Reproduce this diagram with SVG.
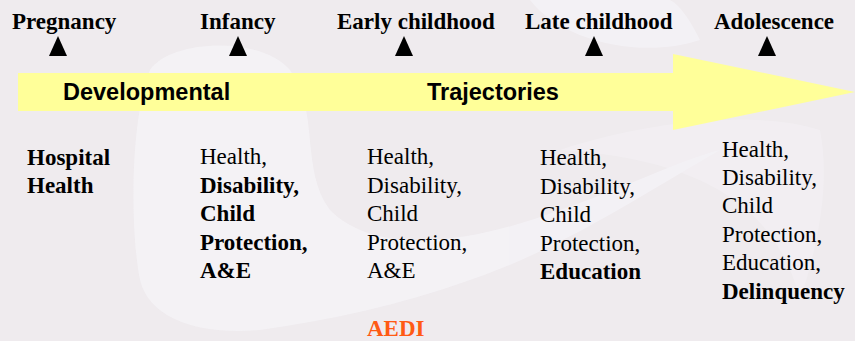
<svg xmlns="http://www.w3.org/2000/svg" width="855" height="341" viewBox="0 0 855 341">
<style>
.t{font-family:"Liberation Serif","Times New Roman",serif;font-size:23px;fill:#000}
.b{font-weight:bold}
.s{font-family:"Liberation Sans",Arial,sans-serif;font-size:23.5px;font-weight:bold;fill:#000}
.tri{fill:#000}
.sw{fill:#f8f7fc}
</style>
<rect width="855" height="341" fill="#efebee"/>
<g id="background" opacity="0.55">
<path class="sw" d="M150,70 C170,40 260,35 290,70 C320,110 300,170 330,210 C380,260 480,240 560,210 C620,190 680,160 720,150 C650,190 560,250 470,280 C400,305 330,320 260,330 C200,335 150,320 140,280 C130,230 130,120 150,70 Z"/>
<path class="sw" d="M530,0 C560,40 640,60 700,40 C690,20 680,5 670,0 Z"/>
<path class="sw" d="M560,150 C650,120 760,110 820,130 C830,180 820,240 800,300 C780,220 720,160 560,150 Z" opacity="0.6"/>
</g>
<g id="arrow">
<polygon points="18,73 673,73 673,54 855,92 673,130 673,111 18,111" fill="#ffff99"/>
<text class="s" x="63" y="100">Developmental</text>
<text class="s" x="427" y="100">Trajectories</text>
</g>
<g id="stage-pregnancy">
<text class="t b" x="12" y="29">Pregnancy</text>
<polygon class="tri" points="58,36 67,56 49,56"/>
</g>
<g id="stage-infancy">
<text class="t b" x="200" y="29">Infancy</text>
<polygon class="tri" points="238,36 247,56 229,56"/>
</g>
<g id="stage-early">
<text class="t b" x="337" y="29">Early childhood</text>
<polygon class="tri" points="404,36 413,56 395,56"/>
</g>
<g id="stage-late">
<text class="t b" x="525" y="29">Late childhood</text>
<polygon class="tri" points="594,36 603,56 585,56"/>
</g>
<g id="stage-adolescence">
<text class="t b" x="714" y="29">Adolescence</text>
<polygon class="tri" points="767,36 776,56 758,56"/>
</g>
<g id="col-pregnancy">
<text class="t b" x="27" y="165">Hospital</text>
<text class="t b" x="27" y="193">Health</text>
</g>
<g id="col-infancy">
<text class="t" x="200" y="164">Health,</text>
<text class="t b" x="200" y="193">Disability,</text>
<text class="t b" x="200" y="221">Child</text>
<text class="t b" x="200" y="250">Protection,</text>
<text class="t b" x="200" y="278">A&amp;E</text>
</g>
<g id="col-early">
<text class="t" x="367" y="164">Health,</text>
<text class="t" x="367" y="193">Disability,</text>
<text class="t" x="367" y="221">Child</text>
<text class="t" x="367" y="250">Protection,</text>
<text class="t" x="367" y="278">A&amp;E</text>
<text class="t b" x="367" y="336" style="fill:#ff5a14">AEDI</text>
</g>
<g id="col-late">
<text class="t" x="540" y="165">Health,</text>
<text class="t" x="540" y="194">Disability,</text>
<text class="t" x="540" y="222">Child</text>
<text class="t" x="540" y="251">Protection,</text>
<text class="t b" x="540" y="279">Education</text>
</g>
<g id="col-adolescence">
<text class="t" x="722" y="157">Health,</text>
<text class="t" x="722" y="185">Disability,</text>
<text class="t" x="722" y="213">Child</text>
<text class="t" x="722" y="242">Protection,</text>
<text class="t" x="722" y="270">Education,</text>
<text class="t b" x="722" y="299">Delinquency</text>
</g>
</svg>
